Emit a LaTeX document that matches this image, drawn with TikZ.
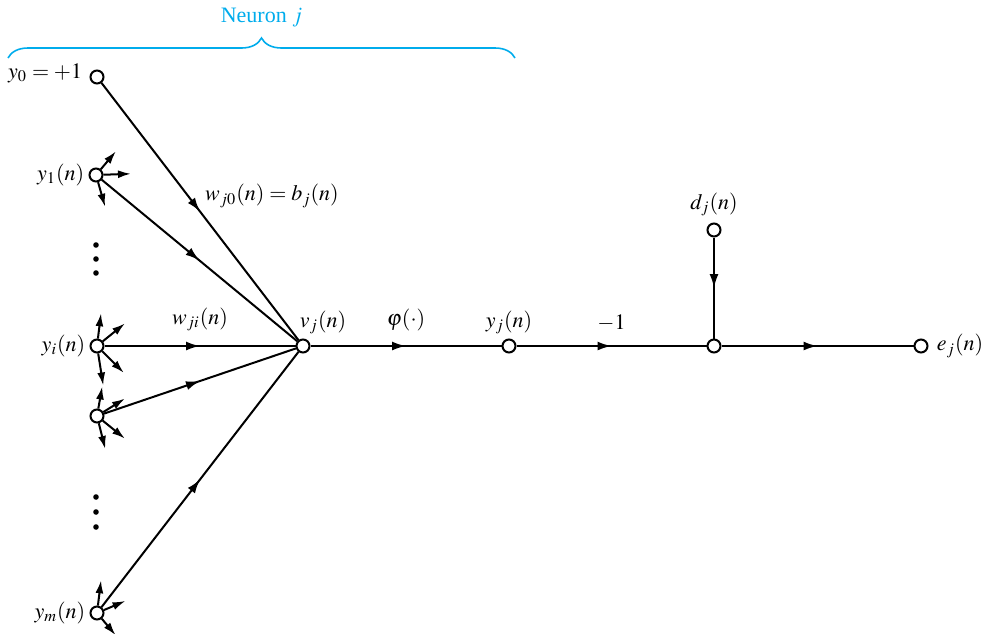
\documentclass[tikz,border=0pt]{standalone}
\usepackage{mathptmx}
\usepackage{fontspec}
\setmainfont{Liberation Serif}
\newfontfamily\neuronfont{Liberation Serif}
\usetikzlibrary{arrows.meta,positioning,decorations.pathreplacing,decorations.markings}
\definecolor{neuroncyan}{RGB}{0,172,236}

\begin{document}
\begin{tikzpicture}[
    x=0.5pt, y=-0.5pt,
    junc/.style={circle, draw, line width=1pt, fill=white,
                 minimum size=6.5pt, inner sep=0pt},
    lbl/.style={inner sep=1pt, font=\fontsize{11}{13}\selectfont},
    flow/.style={line width=1pt, postaction={decorate},
                 decoration={markings, mark=at position 0.5 with
                   {\arrow{Latex[length=7pt,width=4.5pt]}}}},
    fan/.style={line width=1pt, -{Latex[length=6.5pt,width=4pt]}},
  ]
  \useasboundingbox (0,0) rectangle (985,633);

  % input, hidden and output junctions
  \node[junc] (y0) at (97,77) {};
  \node[junc] (y1) at (96,175) {};
  \node[junc] (yi) at (97,346) {};
  \node[junc] (yk) at (97,416) {};
  \node[junc] (ym) at (97,613) {};
  \node[junc] (vj) at (303,346) {};
  \node[junc] (yj) at (509,346) {};
  \node[junc] (sum) at (714,346) {};
  \node[junc] (dj) at (714,230) {};
  \node[junc] (ej) at (921,346) {};

  \node[lbl, left=2.5pt of y0, yshift=2pt] (y0lbl) {$y_0 = +1$};
  \node[lbl, left=1pt of y1] (y1lbl) {$y_1(n)$};
  \node[lbl, left=1pt of yi] (yilbl) {$y_i(n)$};
  \node[lbl, left=1pt of ym] (ymlbl) {$y_m(n)$};
  \node[lbl, above=1pt of vj, xshift=10pt] (vjlbl) {$v_j(n)$};
  \node[lbl, above=1pt of yj] (yjlbl) {$y_j(n)$};
  \node[lbl, above=2pt of dj] (djlbl) {$d_j(n)$};
  \node[lbl, right=3pt of ej] (ejlbl) {$e_j(n)$};

  % vertical dots
  \foreach \yy in {245,259,273,497,512,527}
    \fill (96,\yy) circle (1.4pt);

  % signal flow
  \draw[flow] (y0) -- node[lbl, pos=0.44, anchor=west, xshift=7pt] (wj0)
    {$w_{j0}(n) = b_j(n)$} (vj);
  \draw[flow] (y1) -- (vj);
  \draw[flow] (yi) -- node[lbl, above=6pt] (wji) {$w_{ji}(n)$} (vj);
  \draw[flow] (yk) -- (vj);
  \draw[flow] (ym) -- (vj);
  \draw[flow] (vj) -- node[lbl, above=6pt] (phi) {$\varphi(\cdot)$} (yj);
  \draw[flow] (yj) -- node[lbl, above=6pt] (gain) {$-1$} (sum);
  \draw[flow] (dj) -- (sum);
  \draw[flow] (sum) -- (ej);

  % outgoing fans of the other neurons
  \foreach \a/\l in {-50/31, -2/35, 74/33}
    \draw[fan] (y1) -- ++(\a:\l);
  \foreach \a/\l in {-83/33, -39/36, 45/38, 81/40}
    \draw[fan] (yi) -- ++(\a:\l);
  \foreach \a/\l in {-80/30, -32/33, 39/36, 76/34}
    \draw[fan] (yk) -- ++(\a:\l);
  \foreach \a/\l in {-83/33, -23/31, 50/29}
    \draw[fan] (ym) -- ++(\a:\l);

  % neuron brace
  \draw[neuroncyan, line width=0.8pt, decorate,
        decoration={brace, amplitude=10pt}]
    (8,58) -- (515,58)
    node[lbl, midway, above=14pt] (neuron) {\neuronfont Neuron $j$};
\end{tikzpicture}
\end{document}
